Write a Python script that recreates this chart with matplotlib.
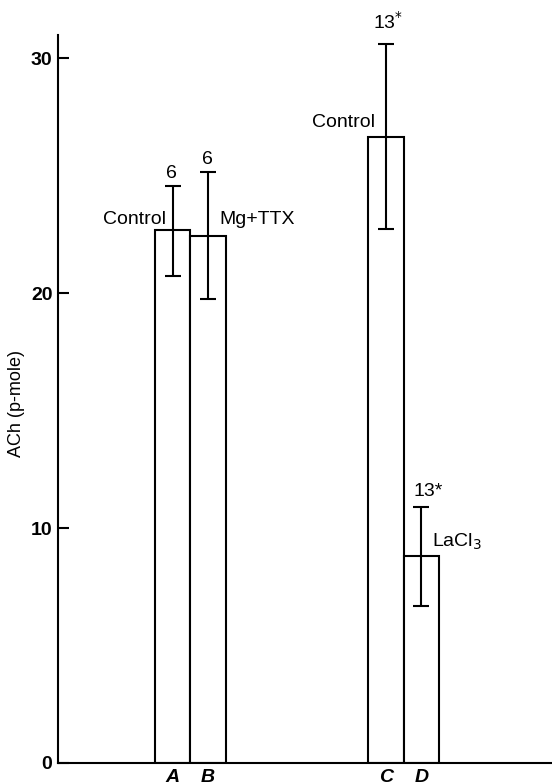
import matplotlib.pyplot as plt

plt.rcParams['font.family'] = ['Liberation Sans', 'DejaVu Sans']

# data
groups = ['A', 'B', 'C', 'D']
ach = [22.7, 22.45, 26.65, 8.8]
err_up = [1.85, 2.7, 3.95, 2.1]
err_down = [1.95, 2.7, 3.9, 2.1]
n_labels = ['6', '6', r'13$^{*}$', '13*']
cond_labels = ['Control', 'Mg+TTX', 'Control', 'LaCl$_3$']
xpos = [3.23, 4.23, 9.24, 10.24]

fig = plt.figure(figsize=(5.52, 7.82), dpi=100)
ax = fig.add_axes([0.105, 0.0243, 0.895, 0.931])

ax.bar(xpos, ach, width=1.0, color='white', edgecolor='black', linewidth=1.5, zorder=2)
ax.errorbar(xpos, ach, yerr=[err_down, err_up], fmt='none', ecolor='black',
            elinewidth=1.5, capsize=5.5, capthick=1.5, zorder=3)

ax.set_xlim(0, 13.92)
ax.set_ylim(0, 31.0)
ax.spines['top'].set_visible(False)
ax.spines['right'].set_visible(False)
ax.spines['left'].set_linewidth(1.5)
ax.spines['bottom'].set_linewidth(1.5)
ax.set_xticks([])
ax.set_yticks([0, 10, 20, 30])
ax.tick_params(axis='y', direction='in', length=8, width=1.5, labelsize=14, pad=4)
for lab in ax.get_yticklabels():
    lab.set_fontweight('bold')

fs = 14
# sample sizes above the error bars
tops = [a + e for a, e in zip(ach, err_up)]
ax.text(xpos[0] - 0.02, tops[0] + 0.2, n_labels[0], ha='center', va='bottom', fontsize=fs)
ax.text(xpos[1] - 0.02, tops[1] + 0.2, n_labels[1], ha='center', va='bottom', fontsize=fs)
ax.text(xpos[2] + 0.05, tops[2] + 0.5, n_labels[2], ha='center', va='bottom', fontsize=fs, clip_on=False)
ax.text(xpos[3] + 0.2, tops[3] + 0.3, n_labels[3], ha='center', va='bottom', fontsize=fs)

# condition labels
ax.text(3.04, 22.97, cond_labels[0], ha='right', va='baseline', fontsize=fs)
ax.text(4.56, 22.97, cond_labels[1], ha='left', va='baseline', fontsize=fs)
ax.text(8.93, 27.06, cond_labels[2], ha='right', va='baseline', fontsize=fs)
ax.text(10.55, 9.4, cond_labels[3], ha='left', va='center', fontsize=fs)

# group letters under the bars
for x, g in zip(xpos, groups):
    ax.text(x, -0.25, g, ha='center', va='top', fontsize=fs, fontstyle='italic',
            fontweight='bold', clip_on=False)

ax.text(-1.17, 15.3, 'ACh (p-mole)', rotation=90, ha='center', va='center', fontsize=13)

fig.savefig('out.png', dpi=100)
